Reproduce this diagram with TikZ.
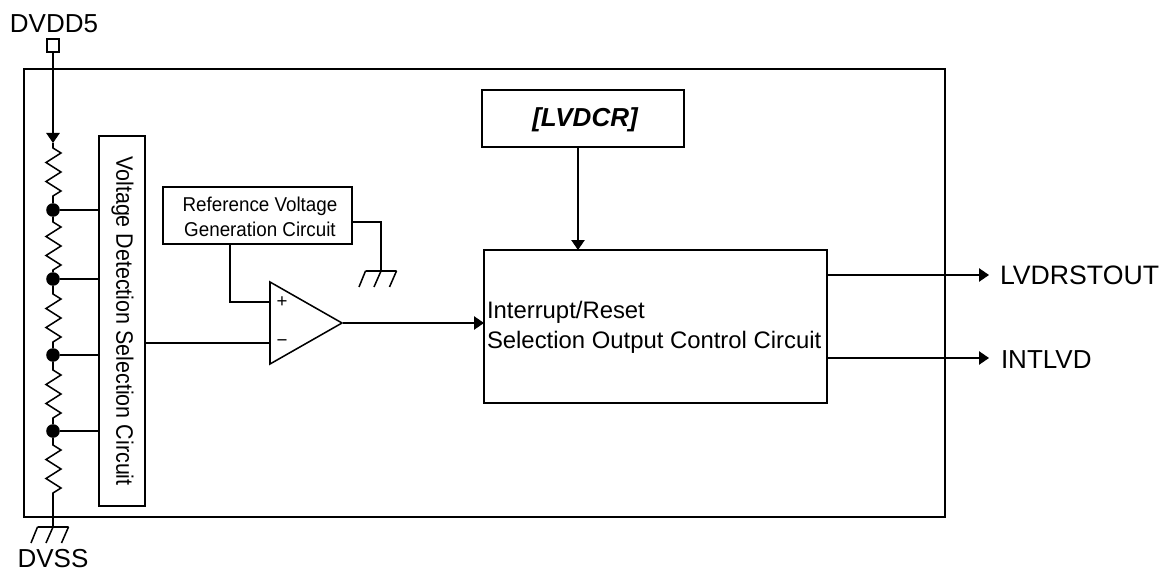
\documentclass[tikz,border=0pt]{standalone}
\usepackage{fontspec}
\setmainfont{Liberation Sans}
\usetikzlibrary{arrows.meta,calc}
\tikzset{
  x=0.75pt,y=-0.75pt,
  wire/.style={line width=1.15pt,black},
  arrowwire/.style={wire,-{Triangle[length=7.5pt,width=10pt]}},
  blockbox/.style={draw,line width=1.15pt,fill=white,anchor=north west,inner sep=0pt,outer sep=0pt},
  lbl/.style={inner sep=0pt,outer sep=0pt,font=\fontsize{19.5pt}{23pt}\selectfont},
  joint/.style={circle,fill=black,draw=none,minimum size=10.2pt,inner sep=0pt,outer sep=0pt},
}
\newcommand{\groundsym}[1]{%
  \draw[wire] ($(#1)+(-15.5,0)$) -- ($(#1)+(15.5,0)$)
    ($(#1)+(-15.5,0)$) -- ($(#1)+(-22,16)$)
    ($(#1)+(0,0)$) -- ($(#1)+(-7,16)$)
    ($(#1)+(15.5,0)$) -- ($(#1)+(8.5,16)$);}
\newcommand{\resistorpath}[3]{%
  \draw[wire,line join=miter] (#1) -- ++(0,#3) -- ++(8,5) -- ++(-15,9.5) -- ++(15,9.5) -- ++(-15,9.5) -- ++(15,9.5) -- ++(-8,5) -- (#2);}
\begin{document}
\begin{tikzpicture}
\useasboundingbox (0,0) rectangle (1170,574);
\node[blockbox,minimum width=921*0.75pt,minimum height=448*0.75pt] (main) at (24,69) {};
\node[blockbox,minimum width=46*0.75pt,minimum height=370*0.75pt] (sel) at (99,136) {};
\node[rotate=-90,lbl,font=\fontsize{17.8pt}{21pt}\selectfont] (seltext) at (122.5,321) {\scalebox{.905}[1]{Voltage Detection Selection Circuit}};
\node[blockbox,minimum width=189*0.75pt,minimum height=57*0.75pt] (ref) at (163,187) {};
\node[inner sep=0pt,outer sep=0pt,align=center,font=\fontsize{15pt}{18.75pt}\selectfont] (reftext) at (260,217) {\scalebox{.94}[1]{Reference Voltage}\\\scalebox{.94}[1]{Generation Circuit}};
\node[blockbox,minimum width=202*0.75pt,minimum height=57*0.75pt] (lvdcr) at (482,90) {};
\node[lbl,font=\fontsize{19.5pt}{23pt}\selectfont\bfseries\itshape] (lvdcrtext) at (585,119.5) {[LVDCR]};
\node[blockbox,minimum width=343*0.75pt,minimum height=153*0.75pt] (ctrl) at (484,250) {};
\node[lbl,anchor=west,align=left,font=\fontsize{17.9pt}{22.5pt}\selectfont] (ctrltext) at (487,327) {Interrupt/Reset\\Selection Output Control Circuit};
% pins
\node[draw,line width=1.15pt,fill=white,minimum width=9pt,minimum height=9.5pt,inner sep=0pt,outer sep=0pt] (pin) at (53,45.5) {};
\node[lbl] (dvdd) at (54,24) {DVDD5};
\node[lbl] (dvss) at (53,559) {DVSS};
\coordinate (r1top) at (53,143);
\node[joint] (j1) at (53,210) {};
\node[joint] (j2) at (53,279) {};
\node[joint] (j3) at (53,355) {};
\node[joint] (j4) at (53,431) {};
\coordinate (gnd1) at (53,527);
\coordinate (gnd2) at (381,271);
\draw[arrowwire] (pin.south) -- (r1top);
\resistorpath{r1top}{j1}{5}
\resistorpath{j1}{j2}{12}
\resistorpath{j2}{j3}{15}
\resistorpath{j3}{j4}{15}
\resistorpath{j4}{gnd1}{14}
\groundsym{gnd1}
\foreach \j in {j1,j2,j3,j4}{\draw[wire] (\j) -- (\j -| sel.west);}
% comparator
\coordinate (optl) at (270,282);
\coordinate (opbl) at (270,364);
\coordinate (opout) at (342,323);
\node[inner sep=0pt,outer sep=0pt] (opamp) at (opout) {};
\draw[wire,line join=miter] (optl) -- (opbl) -- (opout) -- cycle;
\node[inner sep=0pt,font=\fontsize{14pt}{15pt}\selectfont] (plus) at (282,302) {+};
\node[inner sep=0pt,font=\fontsize{14pt}{15pt}\selectfont] (minus) at (282,343) {−};
\draw[wire] (ref.south -| 230,0) -- (230,302) -- (270,302);
\draw[wire] (sel.east |- 0,343) -- (270,343);
\draw[wire] (ref.east |- 0,222) -- (gnd2 |- 0,222) -- (gnd2);
\groundsym{gnd2}
\draw[arrowwire] (opamp) -- (ctrl.west |- opamp);
\draw[arrowwire] (lvdcr.south -| 578,0) -- (ctrl.north -| 578,0);
\coordinate (o1) at (989,275);
\coordinate (o2) at (989,358);
\draw[arrowwire] (ctrl.east |- o1) -- (o1);
\draw[arrowwire] (ctrl.east |- o2) -- (o2);
\node[lbl,anchor=west,font=\fontsize{20pt}{23pt}\selectfont] (lvd) at (1000,275.5) {LVDRSTOUT};
\node[lbl,anchor=west] (intl) at (1001,360) {INTLVD};
\end{tikzpicture}
\end{document}
